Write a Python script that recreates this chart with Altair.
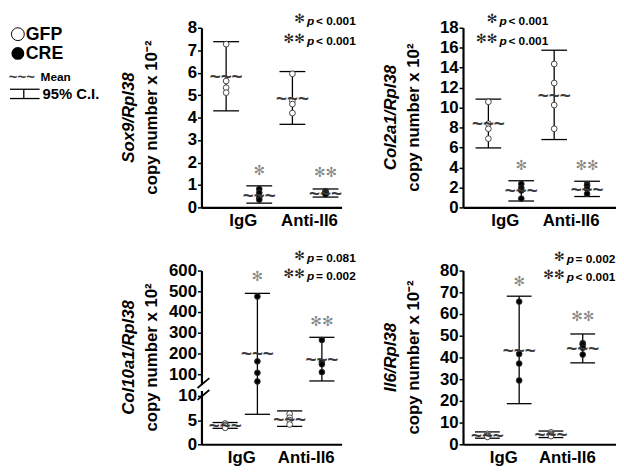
import altair as alt
import pandas as pd

FONT = "Liberation Sans"
STAR_FONT = "DejaVu Sans"

GROUP_POS = [0, 1, 2, 3]
GENOTYPE = ["GFP", "CRE", "GFP", "CRE"]
X_TICKS = [0.5, 2.5]
X_LABELS = ["IgG", "Anti-Il6"]
SIG_MARKS = ["", "✻", "", "✻✻"]

# ---- Sox9 / Rpl38 (x 10^-2)
sox9_points = [[7.27, 5.63, 5.33, 5.11], [0.82, 0.65, 0.45, 0.34],
               [5.95, 4.75, 4.60, 4.20], [0.72, 0.67, 0.62, 0.58]]
sox9_mean = [5.85, 0.57, 4.87, 0.65]
sox9_lo = [4.30, 0.19, 3.70, 0.46]
sox9_hi = [7.38, 0.96, 6.05, 0.82]
sox9_sig_y = [0, 1.63, 0, 1.52]
sox9_ticks = [0, 1, 2, 3, 4, 5, 6, 7, 8]

# ---- Col2a1 / Rpl38 (x 10^2)
col2_points = [[10.58, 8.38, 7.88, 6.89], [2.35, 1.95, 1.70, 0.88],
               [14.37, 12.46, 10.26, 7.88], [2.34, 2.18, 1.85, 1.36]]
col2_mean = [8.43, 1.75, 11.25, 1.85]
col2_lo = [5.96, 0.64, 6.80, 1.09]
col2_hi = [10.85, 2.67, 15.75, 2.62]
col2_sig_y = [0, 4.15, 0, 4.15]
col2_ticks = [0, 2, 4, 6, 8, 10, 12, 14, 16, 18]

# ---- Col10a1 / Rpl38 (x 10^2), broken axis
col10_points = [[4.3, 4.0, 3.8, 3.4], [475, 162, 107, 70],
                [6.3, 5.5, 5.0, 4.1], [265, 158, 148, 110]]
col10_mean = [3.9, 204, 5.2, 175]
col10_lo = [3.3, 6.2, 3.7, 72]
col10_hi = [4.5, 490, 6.9, 278]
col10_sig_y = [0, 568, 0, 350]
col10_ticks = [0, 5, 10, 100, 200, 300, 400, 500, 600]

# ---- Il6 / Rpl38 (x 10^-2)
il6_points = [[4.8, 4.2, 3.8, 3.4], [65.7, 41.6, 37.2, 29.4],
              [5.5, 4.8, 4.3, 3.8], [46.6, 45.9, 44.4, 41.3]]
il6_mean = [4.05, 43.5, 4.6, 44.5]
il6_lo = [2.8, 18.7, 3.1, 37.5]
il6_hi = [5.7, 68.2, 6.1, 50.8]
il6_sig_y = [0, 74.7, 0, 58.7]
il6_ticks = [0, 10, 20, 30, 40, 50, 60, 70, 80]


def make_points(points):
    rows = []
    for pos, geno, vals in zip(GROUP_POS, GENOTYPE, points):
        for v in vals:
            rows.append({"pos": pos, "value": v, "genotype": geno})
    return pd.DataFrame(rows)


def make_summary(means, lo, hi, sig_y):
    return pd.DataFrame({"pos": GROUP_POS, "mean": means, "lo": lo, "hi": hi,
                         "sig": SIG_MARKS, "sig_y": sig_y})


ONE = alt.Data(values=[{"k": 1}])


def txt(text, x, y, size, font=FONT, weight="bold", align="center",
        baseline="middle", color="black", **kw):
    return alt.Chart(ONE).mark_text(
        text=text, font=font, fontSize=size, fontWeight=weight, align=align,
        baseline=baseline, color=color, **kw
    ).encode(x=alt.value(x), y=alt.value(y))


def seg(x, x2, y, y2, width=1.3, color="black"):
    return alt.Chart(ONE).mark_rule(color=color, strokeWidth=width).encode(
        x=alt.value(x), x2=alt.value(x2), y=alt.value(y), y2=alt.value(y2))


def panel(points, means, lo, hi, sig_y, yscale, yvalues, xdomain, width, height,
          gene, unit, p_lines, p_x, extra=None, yzindex=0):
    xs = alt.Scale(domain=xdomain, nice=False, zero=False)
    label_expr = "datum.value < 1 ? '%s' : '%s'" % (X_LABELS[0], X_LABELS[1])
    xaxis = alt.Axis(values=X_TICKS, labelExpr=label_expr, ticks=False, title=None,
                     grid=False, labelFontSize=17, labelPadding=5, domainWidth=2.2)
    yaxis = alt.Axis(values=yvalues, title=None, grid=False, tickSize=4,
                     labelPadding=1, labelFontSize=17, domainWidth=2.2,
                     zindex=yzindex)

    def X(f):
        return alt.X(f, type="quantitative", scale=xs, axis=xaxis)

    def Y(f):
        return alt.Y(f, type="quantitative", scale=yscale, axis=yaxis)

    summ = alt.Chart(make_summary(means, lo, hi, sig_y))
    bars = summ.mark_rule(color="black", strokeWidth=1.3).encode(
        x=X("pos"), y=Y("lo"), y2="hi")
    capped = summ.transform_calculate(xl="datum.pos - 0.39", xr="datum.pos + 0.39")
    cap_hi = capped.mark_rule(color="black", strokeWidth=1.3).encode(
        x=X("xl"), x2="xr", y=Y("hi"))
    cap_lo = capped.mark_rule(color="black", strokeWidth=1.3).encode(
        x=X("xl"), x2="xr", y=Y("lo"))
    pts = alt.Chart(make_points(points)).mark_circle(
        size=34, stroke="#333", strokeWidth=0.9, opacity=1).encode(
        x=X("pos"), y=Y("value"),
        fill=alt.Fill("genotype:N", scale=alt.Scale(domain=["GFP", "CRE"],
                      range=["white", "black"]), legend=None))
    mean = summ.mark_text(text="~~~", font=FONT, fontSize=19, fontWeight="bold",
                          color="#3a3a3a", dy=1).encode(x=X("pos"), y=Y("mean"))
    sig = summ.transform_filter("datum.sig != ''").mark_text(
        font=STAR_FONT, fontSize=14, color="#888").encode(
        x=X("pos"), y=Y("sig_y"), text="sig:N")

    layers = [bars, cap_lo, cap_hi, pts, mean, sig]
    layers.append(txt(gene, -73, height / 2, 17, angle=270, fontStyle="italic"))
    layers.append(txt(unit, -50, height / 2, 17, angle=270))
    for stars, rest, y in p_lines:
        layers.append(txt(stars, p_x - 1, y, 13, font=STAR_FONT, weight="normal",
                          align="right", color="#222"))
        layers.append(txt("p", p_x + 1, y + 2, 12, align="left", fontStyle="italic"))
        layers.append(txt(rest, p_x + 10, y + 2, 12, align="left"))
    if extra:
        layers.extend(extra)
    return alt.layer(*layers).properties(width=width, height=height)


H1, H2 = 182, 176
W1, W2 = 142, 155

legend = [
    alt.Chart(ONE).mark_circle(size=170, fill="white", stroke="black",
                               strokeWidth=1, opacity=1).encode(
        x=alt.value(-186), y=alt.value(6.5)),
    txt("GFP", -178, 7, 18, align="left"),
    alt.Chart(ONE).mark_circle(size=170, color="black", opacity=1).encode(
        x=alt.value(-186), y=alt.value(26)),
    txt("CRE", -178, 26.5, 18, align="left"),
    txt("~~~", -182, 50, 15, weight="bold", color="#3a3a3a"),
    txt("Mean", -163, 49.5, 12, align="left"),
    seg(-194, -164, 62.3, 62.3),
    seg(-194, -164, 71.7, 71.7),
    seg(-180, -180, 62.3, 71.7),
    txt("95% C.I.", -161, 67.5, 15, align="left"),
]

p1 = panel(sox9_points, sox9_mean, sox9_lo, sox9_hi, sox9_sig_y,
           alt.Scale(domain=[0, 8], nice=False, zero=True), sox9_ticks,
           [-0.745, 3.485], W1, H1, "Sox9/Rpl38", "copy number x 10⁻²",
           [("✻", "< 0.001", -9), ("✻✻", "< 0.001", 11)], 106, extra=legend)

p2 = panel(col2_points, col2_mean, col2_lo, col2_hi, col2_sig_y,
           alt.Scale(domain=[0, 18], nice=False, zero=True), col2_ticks,
           [-0.771, 3.879], W2, H1, "Col2a1/Rpl38", "copy number x 10²",
           [("✻", "< 0.001", -9), ("✻✻", "< 0.001", 11)], 36)

break_marks = [
    alt.Chart(ONE).mark_rect(color="white").encode(
        x=alt.value(-3), x2=alt.value(3), y=alt.value(116), y2=alt.value(122)),
    seg(-4, 8, 119, 109, width=1.8),
    seg(-4, 8, 131, 121, width=1.8),
]

p3 = panel(col10_points, col10_mean, col10_lo, col10_hi, col10_sig_y,
           alt.Scale(domain=[0, 10, 100, 600], range=[H2, H2 - 49, H2 - 71, 0],
                     nice=False, zero=False), col10_ticks,
           [-0.735, 3.612], W1, H2, "Col10a1/Rpl38", "copy number x 10²",
           [("✻", "= 0.081", -15), ("✻✻", "= 0.002", 4)], 106,
           extra=break_marks, yzindex=0)

p4 = panel(il6_points, il6_mean, il6_lo, il6_hi, il6_sig_y,
           alt.Scale(domain=[0, 80], nice=False, zero=True), il6_ticks,
           [-0.767, 4.047], W2, H2, "Il6/Rpl38", "copy number x 10⁻²",
           [("✻", "= 0.002", -14), ("✻✻", "< 0.001", 5)], 104)

chart = alt.concat(
    p1, p2, p3, p4, columns=2, bounds="flush", align="each",
    spacing={"row": 64, "column": 123}
).properties(
    padding={"left": 0, "top": 2, "right": 0, "bottom": 0},
    background="white"
).configure_view(stroke=None).configure_axis(
    labelFont=FONT, labelFontWeight="bold", labelColor="black",
    domainColor="black", tickColor="black", tickWidth=1.5
)

chart.save("out.html", embed_options={"renderer": "svg", "actions": False})
